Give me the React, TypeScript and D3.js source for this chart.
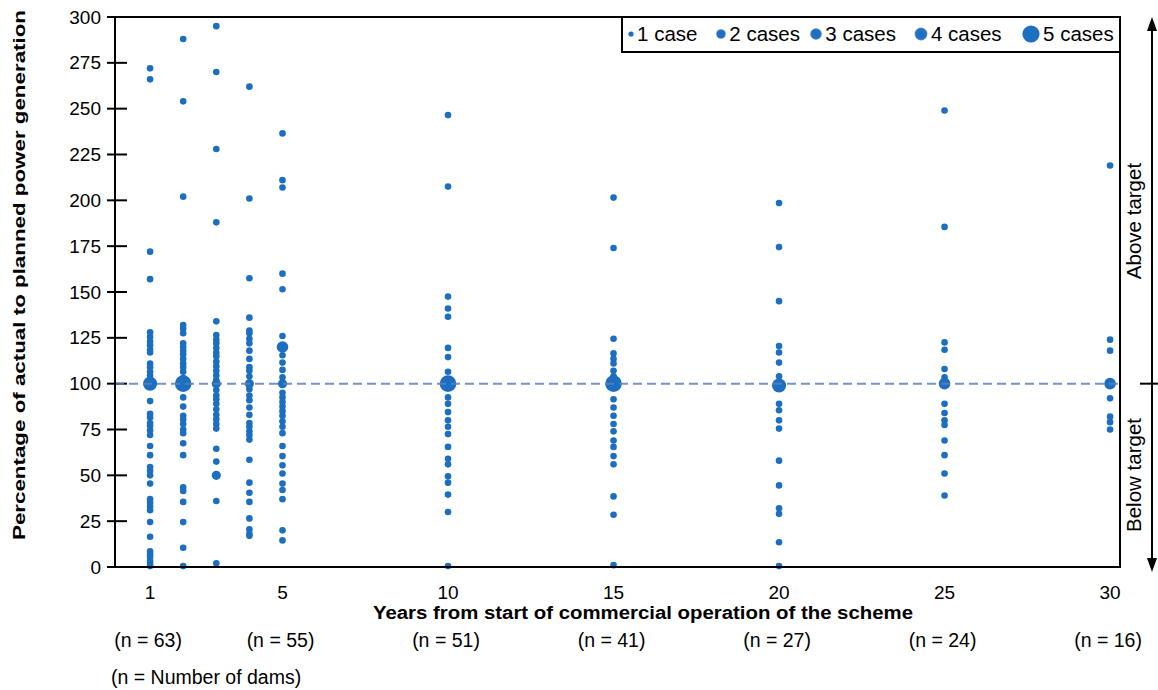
import React from 'react';
import * as d3 from 'd3';

// years with observations
const years = [1, 2, 3, 4, 5, 10, 15, 20, 25, 30];

// single-case values (% of actual to planned generation), per year
const year1 = [272, 266, 172, 157, 128, 125.5, 123, 121, 118.5, 117, 111, 109, 106.5, 104.5, 90.5, 83.5, 81.5, 78.5, 77, 74.5, 72, 66, 61, 54.5, 52.5, 50, 45.5, 37, 35, 33, 31, 24.5, 16.5, 8.5, 7, 5.5, 3.5, 2, 0.5];
const year2 = [288, 254, 202, 132, 130, 127.5, 122, 120, 118, 116, 113.5, 111, 109, 106.5, 103, 92.5, 87.5, 82.5, 80.5, 78, 75, 73, 67.5, 61, 43.5, 41.5, 35.5, 24.5, 10.5, 0.5];
const year3 = [295, 270, 228, 188, 134, 126.5, 124, 122, 119.5, 117, 115, 112, 109.5, 107, 104.5, 102, 96.5, 93.5, 91.5, 89, 86, 83, 80.5, 78, 75.5, 64.5, 57.5, 36, 2];
const year4 = [262, 201, 157.5, 136, 129, 127.5, 124.5, 122, 118, 113.5, 109, 107, 104, 97, 93.5, 91, 87, 83, 78.5, 76.5, 74, 72, 69.5, 58.5, 46, 40.5, 35.5, 26.5, 20.5, 18, 17];
const year5 = [236.5, 211, 207, 160, 151.5, 126, 115.5, 111.5, 107.5, 103.5, 95, 92.5, 90, 87.5, 85, 82.5, 79.5, 76.5, 73, 66, 60.5, 55.5, 51, 45.5, 42, 37, 20, 14.5];
const year10 = [246.5, 207.5, 147.5, 141, 136.5, 119.5, 114.5, 106.5, 92.5, 89, 84.5, 80, 76.5, 72.5, 65.5, 59, 56, 49.5, 46, 39.5, 30, 0.5];
const year15 = [201.5, 174, 124.5, 116.5, 113.5, 111, 107, 104, 91.5, 87, 82.5, 78, 74, 69, 65.5, 60.5, 56, 38.5, 28.5, 1];
const year20 = [198.5, 174.5, 145, 120.5, 117, 111.5, 104, 89, 85.5, 80, 75.5, 58, 44.5, 32, 29, 13.5, 0.5];
const year25 = [249, 185.5, 122.5, 118.5, 108, 103.5, 89, 84, 80, 77.5, 69, 61, 51, 39];
const year30 = [219, 124, 118, 92, 82, 79, 75];
const singleValues = [year1, year2, year3, year4, year5, year10, year15, year20, year25, year30];

// points where several dams coincide
const multiYears = [1, 2, 3, 3, 4, 5, 5, 10, 15, 20, 25, 30];
const multiValues = [100, 100, 100, 50, 100, 120, 100, 100, 100, 99, 100, 100];
const multiCases = [4, 5, 2, 2, 2, 3, 2, 5, 5, 4, 3, 3];

const xTickValues = [1, 5, 10, 15, 20, 25, 30];
const yTickValues = [0, 25, 50, 75, 100, 125, 150, 175, 200, 225, 250, 275, 300];
const damCounts = [63, 55, 51, 41, 27, 24, 16];

const legendCases = [1, 2, 3, 4, 5];
const legendLabels = ['1 case', '2 cases', '3 cases', '4 cases', '5 cases'];

const W = 1158;
const H = 690;
const left = 115, right = 1120, top = 17, bottom = 567;
const font = '"Liberation Sans", Arial, sans-serif';
const blue = '#1b6ec0';

export default function App() {
  const x = d3.scaleLinear().domain([-0.06, 30.3]).range([left, right]);
  const y = d3.scaleLinear().domain([0, 300]).range([bottom, top]);
  const r = d3.scaleLinear().domain([1, 5]).range([3.3, 8.3]);
  const legendR = d3.scaleOrdinal<number, number>().domain(legendCases).range([2.6, 4.8, 5.8, 6.4, 8.6]);
  const legendDotX = [631, 721, 816, 921, 1031];

  const singles = years.flatMap((yr, i) => singleValues[i].map(v => ({ yr, v })));
  const multis = multiYears.map((yr, i) => ({ yr, v: multiValues[i], c: multiCases[i] }));

  return (
    <svg width={W} height={H} style={{ position: 'absolute', left: 0, top: 0, background: '#fff' }} fontFamily={font}>
      <defs>
        <radialGradient id="soft">
          <stop offset="0%" stopColor="#1b6ec0" />
          <stop offset="75%" stopColor="#2371c2" />
          <stop offset="100%" stopColor="#5b8fd0" />
        </radialGradient>
      </defs>

      {/* y ticks + labels */}
      {yTickValues.map(t => (
        <g key={t}>
          <line x1={left - 8} x2={left + 12} y1={y(t)} y2={y(t)} stroke="#000" strokeWidth={2} />
          <text x={101} y={y(t)} dy="0.35em" textAnchor="end" fontSize={19}>{t}</text>
        </g>
      ))}

      {/* points */}
      {singles.map((d, i) => (
        <circle key={'s' + i} cx={x(d.yr)} cy={y(d.v)} r={r(1)} fill={blue} />
      ))}
      {multis.map((d, i) => (
        <circle key={'m' + i} cx={x(d.yr)} cy={y(d.v)} r={r(d.c)} fill={blue} />
      ))}

      {/* target line */}
      <line x1={left} x2={right} y1={y(100)} y2={y(100)} stroke="#5d80b8" strokeOpacity={0.85} strokeWidth={2} strokeDasharray="9 5" />

      {/* frame */}
      <rect x={left} y={top} width={right - left} height={bottom - top} fill="none" stroke="#000" strokeWidth={2} />

      {/* legend */}
      <rect x={622} y={top} width={right - 622} height={35} fill="#fff" stroke="#000" strokeWidth={2} />
      {legendCases.map((c, i) => (
        <g key={c}>
          <circle cx={legendDotX[i]} cy={34} r={legendR(c)} fill={c > 1 && c < 5 ? 'url(#soft)' : blue} />
          <text x={legendDotX[i] + legendR(c) + 3.5} y={34} dy="0.35em" fontSize={20.5}>{legendLabels[i]}</text>
        </g>
      ))}

      {/* x tick labels */}
      {xTickValues.map(t => (
        <text key={t} x={x(t)} y={592} dy="0.35em" textAnchor="middle" fontSize={19}>{t}</text>
      ))}
      <text x={643} y={613} dy="0.35em" textAnchor="middle" fontSize={18} fontWeight="bold"
        textLength={540} lengthAdjust="spacingAndGlyphs">Years from start of commercial operation of the scheme</text>

      {xTickValues.map((t, i) => (
        <text key={'n' + t} x={x(t) - 2} y={640} dy="0.35em" textAnchor="middle" fontSize={19.5}>{`(n = ${damCounts[i]})`}</text>
      ))}
      <text x={111} y={677} dy="0.35em" fontSize={19.5}>(n = Number of dams)</text>

      {/* y title */}
      <text transform={`translate(19,275) rotate(-90)`} dy="0.35em" textAnchor="middle" fontSize={17} fontWeight="bold"
        textLength={530} lengthAdjust="spacingAndGlyphs">Percentage of actual to planned power generation</text>

      {/* right-hand target arrow */}
      <line x1={1152} x2={1152} y1={26} y2={560} stroke="#000" strokeWidth={2} />
      <polygon points="1152,17 1147,31 1157,31" fill="#000" />
      <polygon points="1152,572 1147,558 1157,558" fill="#000" />
      <line x1={1140} x2={1158} y1={y(100)} y2={y(100)} stroke="#000" strokeWidth={2} />
      <text transform={`translate(1134,221) rotate(-90)`} dy="0.35em" textAnchor="middle" fontSize={20.5}>Above target</text>
      <text transform={`translate(1134,475) rotate(-90)`} dy="0.35em" textAnchor="middle" fontSize={20.5}>Below target</text>
    </svg>
  );
}
